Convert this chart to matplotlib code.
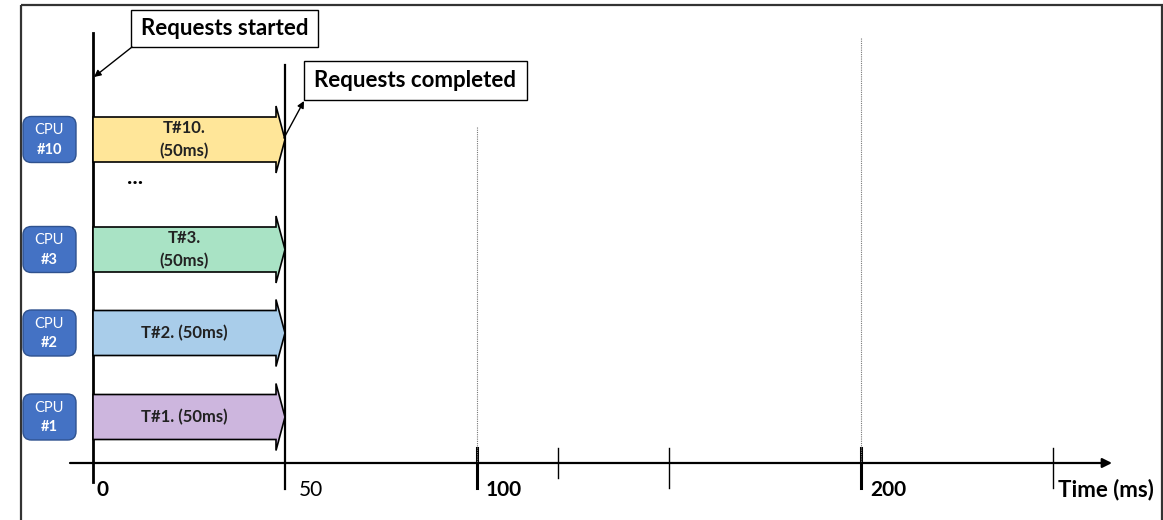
import matplotlib.pyplot as plt
from matplotlib.patches import Polygon, FancyBboxPatch, Rectangle

plt.rcParams['font.family'] = ['Lato', 'DejaVu Sans']

# Data
cpus = ["#10", "#3", "#2", "#1"]
task_labels = ["T#10.\n(50ms)", "T#3.\n(50ms)", "T#2. (50ms)", "T#1. (50ms)"]
durations = [50, 50, 50, 50]
start_time = 0
bar_colors = ["#FFE699", "#A9E3C5", "#A9CDEA", "#CDB6DE"]
row_y = [139.5, 249.5, 333, 417]   # row centres (layout, pixel rows)

major_ticks = [0, 50, 100, 200]
major_labels = ["0", "50", "100", "200"]
major_bold = [True, False, True, True]
label_offset_px = [4, 14, 9, 9]
minor_ticks = [121, 150, 250]
dotted_marks = [100, 200]
dotted_top = [127, 38]

px_per_ms = 3.84
x0_px = 93

fig = plt.figure(figsize=(11.63, 5.2), dpi=100)
ax = fig.add_axes([0, 0, 1, 1])
ax.set_xlim(-x0_px / px_per_ms, (1163 - x0_px) / px_per_ms)
ax.set_ylim(520, 0)
ax.axis("off")

def ms(px):
    return (px - x0_px) / px_per_ms

# outer frame
ax.add_patch(Rectangle((ms(21), 5), ms(1162) - ms(21), 530,
                       fill=False, ec="#333333", lw=1.6, clip_on=True))

# time axis
ax.annotate("", xy=(ms(1112), 463), xytext=(ms(70), 463),
            arrowprops=dict(arrowstyle="-|>", lw=1.6, color="black",
                            mutation_scale=14, shrinkA=0, shrinkB=0))

# start / end lines
end_time = start_time + durations[0]
ax.plot([start_time, start_time], [33, 482], color="black", lw=2)
ax.plot([end_time, end_time], [65, 489], color="black", lw=1.6)

# ticks
for t in major_ticks[2:]:
    ax.plot([t, t], [448, 488], color="black", lw=2.2)
for t in minor_ticks:
    bottom = 478 if t == minor_ticks[0] else 488
    ax.plot([t, t], [448, bottom], color="black", lw=1)

for t, top in zip(dotted_marks, dotted_top):
    ax.plot([t, t], [top, 463], color="#777777", lw=0.8, ls=(0, (1, 1)))

for t, lab, b, off in zip(major_ticks, major_labels, major_bold, label_offset_px):
    ax.text(t + off / px_per_ms, 490, lab, fontsize=15,
            fontweight="bold" if b else "normal", ha="left", va="center")
ax.text(ms(1058), 490, "Time (ms)", fontsize=16, fontweight="bold",
        ha="left", va="center")

# task arrows
head_len = 9 / px_per_ms
half_h = 22.5
barb = 11
for y, lab, dur, col in zip(row_y, task_labels, durations, bar_colors):
    x_end = start_time + dur
    xb = x_end - head_len
    pts = [(start_time, y - half_h), (xb, y - half_h), (xb, y - half_h - barb),
           (x_end, y), (xb, y + half_h + barb), (xb, y + half_h),
           (start_time, y + half_h)]
    ax.add_patch(Polygon(pts, closed=True, fc=col, ec="black", lw=1.2,
                         joinstyle="miter", zorder=3))
    ax.text((start_time + xb) / 2, y, lab, fontsize=12, fontweight="bold",
            ha="center", va="center", linespacing=1.5, color="#222222", zorder=4)

# CPU boxes
for y, c in zip(row_y, cpus):
    ax.add_patch(FancyBboxPatch((ms(23), y - 23), ms(76) - ms(23), 46,
                                boxstyle="round,pad=0,rounding_size=2.2",
                                mutation_aspect=px_per_ms,
                                fc="#4472C4", ec="#2F528F", lw=1, zorder=3))
    ax.text(ms(49.5), y - 9, "CPU", color="white", fontsize=10.5,
            ha="center", va="center", zorder=4)
    ax.text(ms(49.5), y + 10, c, color="white", fontsize=10.5, fontweight="bold",
            ha="center", va="center", zorder=4)

ax.text(ms(127), 178, "...", fontsize=16, fontweight="bold",
        ha="left", va="center")

# callouts
ax.add_patch(Rectangle((ms(131), 10), ms(318) - ms(131), 37,
                       fc="white", ec="black", lw=1, zorder=3))
ax.text(ms(224.5), 28.5, "Requests started", fontsize=16, fontweight="bold",
        ha="center", va="center", zorder=4)
ax.annotate("", xy=(ms(94), 77), xytext=(ms(132), 47),
            arrowprops=dict(arrowstyle="-|>", lw=1, color="black",
                            mutation_scale=10, shrinkA=0, shrinkB=0))
ax.add_patch(Rectangle((ms(304), 61), ms(527) - ms(304), 39,
                       fc="white", ec="black", lw=1, zorder=3))
ax.text(ms(415.5), 80.5, "Requests completed", fontsize=16, fontweight="bold",
        ha="center", va="center", zorder=4)
ax.annotate("", xy=(ms(304), 101), xytext=(ms(284), 138),
            arrowprops=dict(arrowstyle="-|>", lw=1, color="black",
                            mutation_scale=10, shrinkA=0, shrinkB=0))

fig.savefig("out.png", dpi=100)
